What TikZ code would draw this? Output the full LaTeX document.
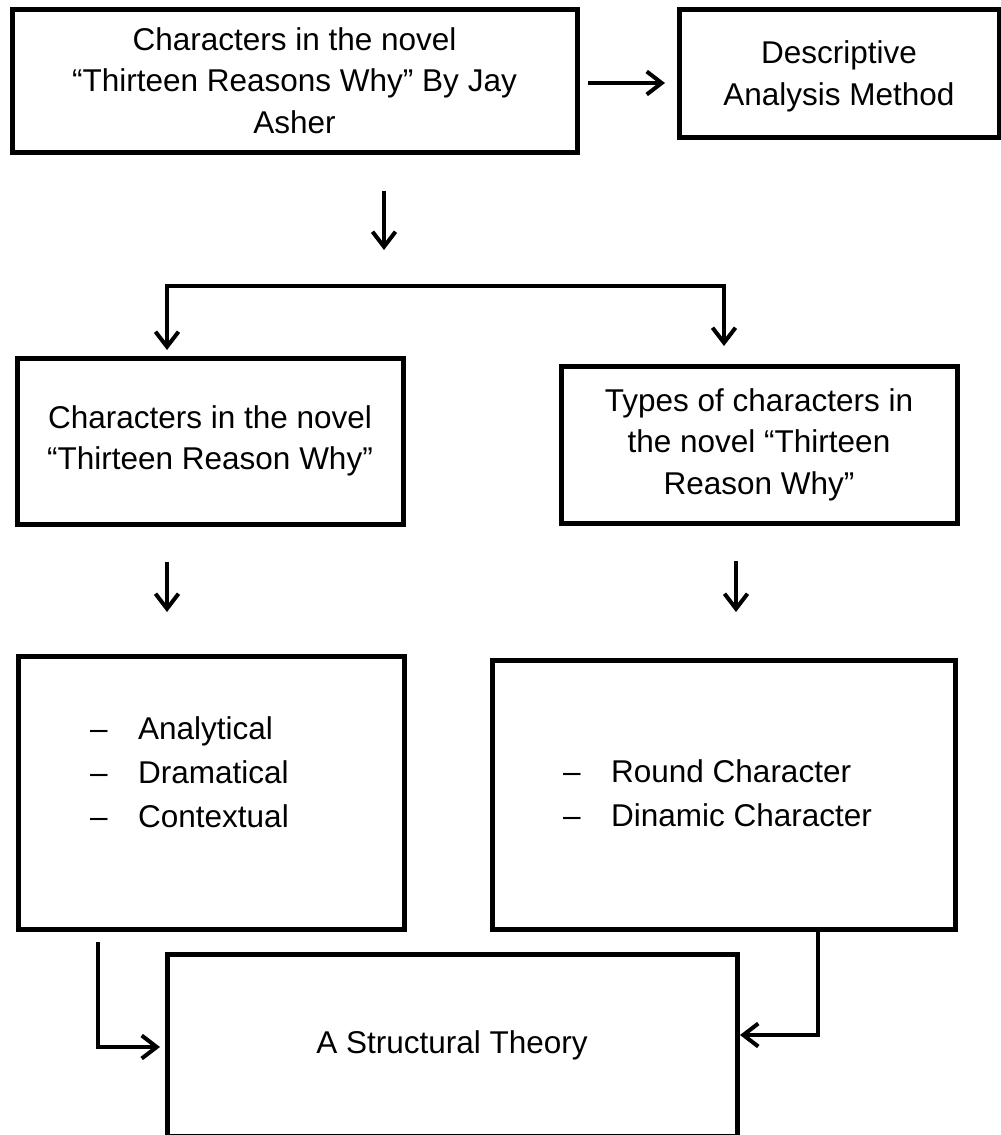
\documentclass[tikz,border=0pt]{standalone}
\usepackage{fontspec}
\setmainfont{Liberation Sans}
\usetikzlibrary{arrows.meta}
\begin{document}
\begin{tikzpicture}[x=1pt,y=-1pt,
  box/.style={draw, line width=5pt, inner sep=0pt, outer sep=0pt, align=center,
    font=\fontsize{31.5}{41.5}\selectfont},
  arr/.style={line width=4pt, line join=miter, -{Straight Barb[length=15pt,width=23pt]}},
  item/.style={anchor=base west, inner sep=0pt, font=\fontsize{31.5}{38}\selectfont}]
\useasboundingbox (0,0) rectangle (1001,1135);
% boxes
\node[box, minimum width=565pt, minimum height=143pt] (b1) at (294.5,80.5)
  {Characters in the novel\\“Thirteen Reasons Why” By Jay\\Asher};
\node[box, minimum width=320pt, minimum height=128pt, text depth=-6pt] (b2) at (839,73)
  {Descriptive\\Analysis Method};
\node[box, minimum width=386pt, minimum height=166pt] (b3) at (210,441)
  {Characters in the novel\\“Thirteen Reason Why”};
\node[box, minimum width=396pt, minimum height=157pt] (b4) at (759,444.5)
  {Types of characters in\\the novel “Thirteen\\Reason Why”};
\node[box, minimum width=386pt, minimum height=273pt] (b5) at (211,792.5) {};
\node[box, minimum width=463pt, minimum height=269pt] (b6) at (723.5,794.5) {};
\node[box, minimum width=570pt, minimum height=182pt] (b7) at (452,1045)
  {A Structural Theory};
% list items
\node[item] (l1) at (90,739) {\makebox[48pt][l]{–}Analytical};
\node[item] (l2) at (90,783) {\makebox[48pt][l]{–}Dramatical};
\node[item] (l3) at (90,827) {\makebox[48pt][l]{–}Contextual};
\node[item] (l4) at (563,782) {\makebox[48pt][l]{–}Round Character};
\node[item] (l5) at (563,826) {\makebox[48pt][l]{–}Dinamic Character};
% connectors
\draw[arr, shorten <=11pt, shorten >=14pt] ([yshift=-2.5pt]b1.east) -- ([yshift=-2.5pt]b1.east -| b2.west);
\coordinate (c1) at (384,250);
\draw[arr, shorten <=39pt] (b1.south -| c1) -- (c1);
\coordinate (bL) at (167,286);
\coordinate (bR) at (724,286);
\draw[arr, shorten >=8pt] ([xshift=2pt]bR) -- (bL) -- (bL |- b3.north);
\draw[arr, shorten >=20pt] (bR) -- (bR |- b4.north);
\draw[arr, shorten <=38pt, shorten >=44pt] ([xshift=-43pt]b3.south) -- ([xshift=-43pt]b3.south |- b5.north);
\draw[arr, shorten <=38pt, shorten >=48pt] ([xshift=-23pt]b4.south) -- ([xshift=-23pt]b4.south |- b6.north);
\draw[arr, shorten <=13pt, shorten >=7pt] ([xshift=-113pt]b5.south) |- ([yshift=-2pt]b7.west);
\draw[arr, shorten >=3pt] ([xshift=94.5pt]b6.south) |- ([yshift=10pt]b7.east);
\end{tikzpicture}
\end{document}
